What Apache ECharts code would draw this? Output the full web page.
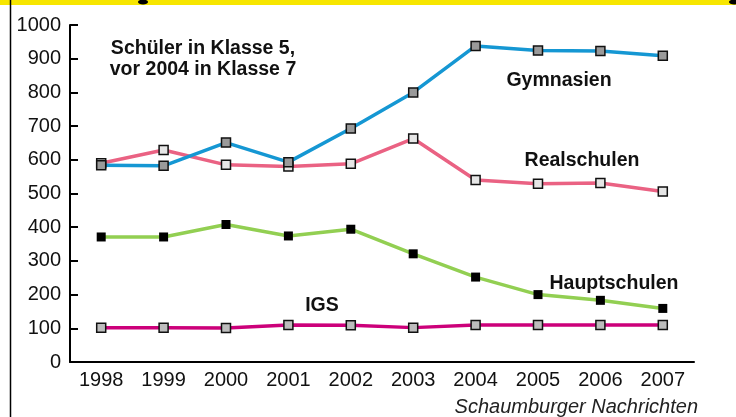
<!DOCTYPE html>
<html>
<head>
<meta charset="utf-8">
<script src="https://cdn.jsdelivr.net/npm/echarts@6/dist/echarts.min.js"></script>
<style>html,body{margin:0;padding:0;background:#fff}#c{width:736px;height:417px}</style>
</head>
<body>
<div id="c"></div>
<script>
const years = ['1998','1999','2000','2001','2002','2003','2004','2005','2006','2007'];
const gymnasien = [584, 582, 651, 593, 693, 800, 938, 924, 923, 909];
const realschulen = [590, 629, 585, 580, 588, 663, 540, 529, 531, 506];
const hauptschulen = [371, 371, 408, 374, 394, 321, 252, 200, 183, 159];
const igs = [102, 102, 101, 110, 109, 102, 110, 110, 110, 110];
const yTicks = [0,100,200,300,400,500,600,700,800,900,1000];

const font = '"Liberation Sans", Arial, Helvetica, sans-serif';
const chart = echarts.init(document.getElementById('c'), null, {renderer:'canvas'});

function series(name, data, color, markerColor, border) {
  return {
    name, type:'line', data,
    symbol:'rect', symbolSize: 9,
    lineStyle:{color, width:3.5},
    itemStyle:{color:markerColor, borderColor:'#111', borderWidth: border},
    emphasis:{disabled:true},
    animation:false
  };
}

chart.setOption({
  animation:false,
  backgroundColor:'#fff',
  grid:{left:70, right:42, top:25, bottom:55},
  xAxis:{
    type:'category', data:years, boundaryGap:true,
    axisLine:{lineStyle:{color:'#000', width:2}},
    axisTick:{inside:true, length:8, interval:0, lineStyle:{color:'#000', width:2}, alignWithLabel:false},
    axisLabel:{color:'#111', fontFamily:font, fontSize:20, margin:8, interval:0}
  },
  yAxis:{
    type:'value', min:0, max:1000, interval:100,
    axisLine:{show:true, lineStyle:{color:'#000', width:2}},
    axisTick:{show:true, inside:true, length:8, lineStyle:{color:'#000', width:2}},
    splitLine:{show:false},
    axisLabel:{color:'#111', fontFamily:font, fontSize:20, margin:9,
      formatter: v => yTicks.includes(v) ? String(v) : ''}
  },
  series:[
    series('Realschulen', realschulen, '#ea6283', '#e6e6e6', 1.5),
    series('Gymnasien', gymnasien, '#1597d3', '#9a9a9a', 1.5),
    series('Hauptschulen', hauptschulen, '#92cf52', '#000', 0),
    series('IGS', igs, '#cc007a', '#bdbdbd', 1.5)
  ],
  graphic:[
    {type:'rect', shape:{x:0,y:0,width:736,height:5}, style:{fill:'#f7e600'}, z:10},
    {type:'ellipse', shape:{cx:143,cy:2,rx:5,ry:2.5}, style:{fill:'#000'}, z:11},
    {type:'ellipse', shape:{cx:734,cy:2,rx:5,ry:2.5}, style:{fill:'#000'}, z:11},
    {type:'line', shape:{x1:10.5,y1:0,x2:10.5,y2:417}, style:{stroke:'#000', lineWidth:1.5}, z:12},
    {type:'text', x:203, y:49, style:{text:'Schüler in Klasse 5,', font:'bold 19.5px '+font, fill:'#111', textAlign:'center', textVerticalAlign:'middle'}},
    {type:'text', x:203, y:70, style:{text:'vor 2004 in Klasse 7', font:'bold 19.5px '+font, fill:'#111', textAlign:'center', textVerticalAlign:'middle'}},
    {type:'text', x:559, y:81, style:{text:'Gymnasien', font:'bold 19.5px '+font, fill:'#111', textAlign:'center', textVerticalAlign:'middle'}},
    {type:'text', x:582, y:161, style:{text:'Realschulen', font:'bold 19.5px '+font, fill:'#111', textAlign:'center', textVerticalAlign:'middle'}},
    {type:'text', x:614, y:284, style:{text:'Hauptschulen', font:'bold 19.5px '+font, fill:'#111', textAlign:'center', textVerticalAlign:'middle'}},
    {type:'text', x:322, y:306, style:{text:'IGS', font:'bold 19.5px '+font, fill:'#111', textAlign:'center', textVerticalAlign:'middle'}},
    {type:'text', x:698, y:407, style:{text:'Schaumburger Nachrichten', font:'italic 20px '+font, fill:'#222', textAlign:'right', textVerticalAlign:'middle'}}
  ]
});
</script>
</body>
</html>
